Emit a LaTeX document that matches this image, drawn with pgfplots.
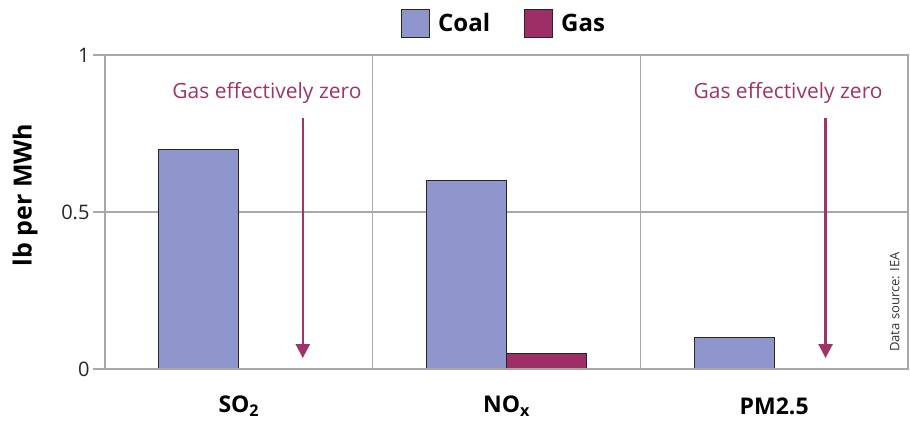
\documentclass[border=0pt]{standalone}
\usepackage{pgfplots}
\pgfplotsset{compat=1.18}
\usepackage{fontspec}
\setmainfont{Open Sans}
\usetikzlibrary{arrows.meta}
\definecolor{coal}{HTML}{8E96CB}
\definecolor{gas}{HTML}{9E2F66}
\definecolor{note}{HTML}{9E3467}
\definecolor{gridc}{HTML}{A8A8A8}
\begin{document}
\begin{tikzpicture}
\path[use as bounding box] (-105pt,-52pt) rectangle (805pt,369pt);
\begin{axis}[
  at={(0pt,0pt)}, anchor=south west,
  scale only axis, width=803pt, height=314pt,
  xmin=-0.5, xmax=2.5, ymin=0, ymax=1,
  ybar=0pt, bar width=80pt,
  legend image code/.code={\draw[#1,draw=black!85,line width=1pt] (0pt,-14pt) rectangle (28pt,14pt);},
  xtick={0,1,2}, xticklabels={SO\textsubscript{2},NO\textsubscript{x},PM2.5},
  minor xtick={0.5,1.5},
  xminorgrids, ymajorgrids,
  ytick={0,0.5,1}, yticklabels={0,0.5,1},
  tick pos=left, tick align=outside,
  major tick length=12pt, minor tick length=0pt,
  xtick style={draw=none},
  ytick style={gridc, line width=1.5pt},
  axis line style={gridc, line width=1.5pt},
  major grid style={gridc, line width=1.5pt},
  minor grid style={gridc, line width=1.5pt},
  /pgf/number format/assume math mode=true,
  yticklabel style={font=\fontsize{20}{20}\selectfont, text=black!85},
  xticklabel style={font=\bfseries\fontsize{23}{23}\selectfont, anchor=center, yshift=-25pt},
  ylabel={lb per MWh},
  ylabel style={font=\bfseries\fontsize{25}{25}\selectfont, at={(axis description cs:-0.0996,0.554)}, anchor=center},
  legend columns=2,
  legend style={at={(axis description cs:0.497,1.1)}, anchor=center, draw=none, fill=none,
    font=\bfseries\fontsize{24}{24}\selectfont,
    /tikz/every odd column/.append style={column sep=6pt},
    /tikz/every even column/.append style={column sep=32pt}},
]
\addplot[fill=coal, draw=black!85, line width=1.2pt,
  legend image code/.code={\draw[fill=coal,draw=black!85,line width=1pt] (0pt,-14pt) rectangle (28pt,14pt);}]
  coordinates {(0,0.7) (1,0.6) (2,0.1)};
\addlegendentry{Coal}
\addplot[fill=gas, draw=black!85, line width=1.2pt,
  legend image code/.code={\draw[fill=gas,draw=black!85,line width=1pt] (0pt,-14pt) rectangle (28pt,14pt);}]
  coordinates {(1,0.05)};
\addlegendentry{Gas}
\draw[gridc, line width=1.5pt] (axis cs:-0.5,0) -- (axis cs:2.5,0);
\draw[note, line width=2.5pt, -{Triangle[width=14pt,length=14pt]}] (axis cs:0.239,0.80) -- (axis cs:0.239,0.035);
\draw[note, line width=2.5pt, -{Triangle[width=14pt,length=14pt]}] (axis cs:2.192,0.80) -- (axis cs:2.192,0.035);
\node[text=note, font=\fontsize{21}{21}\selectfont] at (axis cs:0.105,0.879) {Gas effectively zero};
\node[text=note, font=\fontsize{21}{21}\selectfont] at (axis cs:2.052,0.879) {Gas effectively zero};
\node[rotate=90, text=black!80, font=\fontsize{13}{13}\selectfont] at (axis cs:2.451,0.213) {Data source: IEA};
\end{axis}
\end{tikzpicture}
\end{document}
